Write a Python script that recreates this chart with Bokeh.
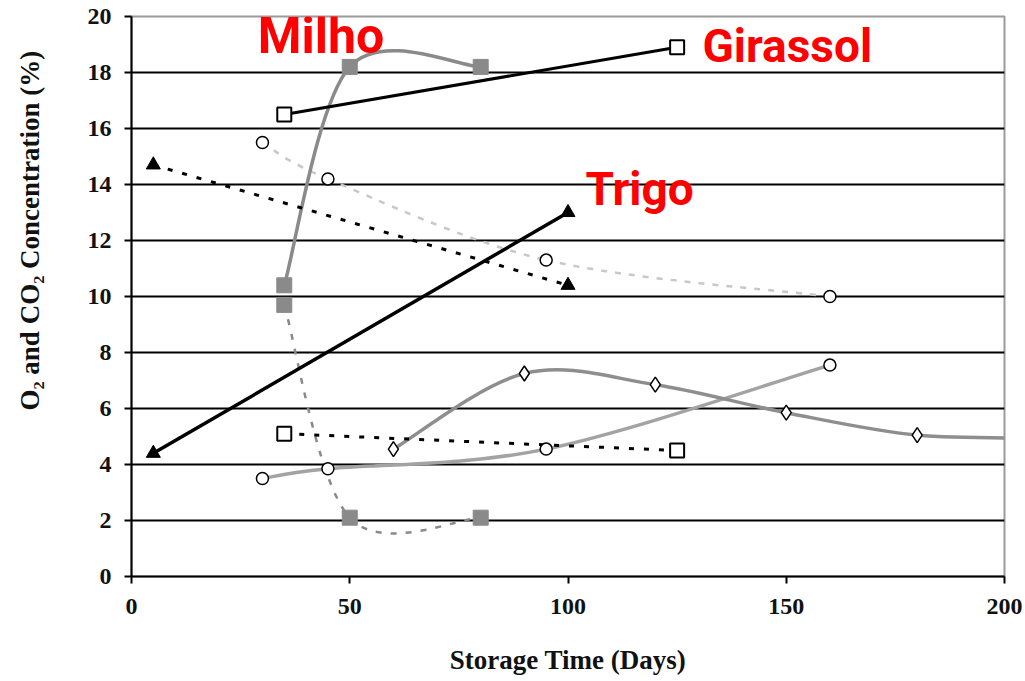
import math
from bokeh.plotting import figure
from bokeh.models import Range1d, FixedTicker, Title
from bokeh.core.properties import value
from bokeh.embed import file_html
from bokeh.resources import INLINE

# ---------------- data ----------------
x_ticks = [0, 50, 100, 150, 200]
y_ticks = [0, 2, 4, 6, 8, 10, 12, 14, 16, 18, 20]

milho_days = [35, 50, 80]
milho_o2 = [10.4, 18.2, 18.2]
milho_co2 = [9.7, 2.1, 2.1]

girassol_days = [35, 125]
girassol_o2 = [16.5, 18.9]
girassol_co2 = [5.1, 4.5]

trigo_days = [5, 100]
trigo_o2 = [4.4, 13.0]
trigo_co2 = [14.7, 10.4]

circ_days = [30, 45, 95, 160]
circ_o2 = [15.5, 14.2, 11.3, 10.0]
circ_co2 = [3.5, 3.85, 4.55, 7.55]

diam_days = [60, 90, 120, 150, 180, 210]
diam_co2 = [4.55, 7.25, 6.85, 5.85, 5.05, 4.95]

labels = ["Milho", "Girassol", "Trigo"]
label_x = [28.9, 130.8, 104.0]
label_y = [19.3, 18.93, 13.84]
label_size = ["50px", "46px", "46px"]


def smooth(xs, ys):
    """Bezier segments (Excel-style smoothed line) through the data points."""
    n = len(xs)
    d = dict(x0=[], y0=[], x1=[], y1=[], cx0=[], cy0=[], cx1=[], cy1=[])
    for i in range(n - 1):
        xp, yp = (xs[i - 1], ys[i - 1]) if i > 0 else (xs[i], ys[i])
        xn, yn = (xs[i + 2], ys[i + 2]) if i + 2 < n else (xs[i + 1], ys[i + 1])
        d["x0"].append(xs[i]); d["y0"].append(ys[i])
        d["x1"].append(xs[i + 1]); d["y1"].append(ys[i + 1])
        d["cx0"].append(xs[i] + (xs[i + 1] - xp) / 6.0)
        d["cy0"].append(ys[i] + (ys[i + 1] - yp) / 6.0)
        d["cx1"].append(xs[i + 1] - (xn - xs[i]) / 6.0)
        d["cy1"].append(ys[i + 1] - (yn - ys[i]) / 6.0)
    return d


p = figure(width=1025, height=681, x_range=Range1d(0, 200), y_range=Range1d(0, 20),
           output_backend="svg", toolbar_location=None,
           min_border_left=131, min_border_right=21, min_border_top=16, min_border_bottom=105)
p.background_fill_color = "white"
p.outline_line_color = "#9a9a9a"
p.outline_line_width = 2

p.xgrid.visible = False
p.ygrid.ticker = FixedTicker(ticks=y_ticks[1:-1])
p.ygrid.grid_line_color = "black"
p.ygrid.grid_line_width = 2

for ax in (p.xaxis[0], p.yaxis[0]):
    ax.axis_line_color = "black"
    ax.axis_line_width = 2
    ax.major_tick_line_color = "black"
    ax.major_tick_line_width = 2
    ax.major_tick_out = 7
    ax.major_tick_in = 0
    ax.minor_tick_line_color = None
    ax.major_label_text_font = "Liberation Serif"
    ax.major_label_text_font_style = "bold"
    ax.major_label_text_font_size = "24px"
    ax.major_label_text_color = "#111111"

p.xaxis.ticker = FixedTicker(ticks=x_ticks)
p.yaxis.ticker = FixedTicker(ticks=y_ticks)
p.xaxis.major_label_standoff = 15
p.yaxis.major_label_standoff = 13
p.xaxis.axis_label = "Storage Time (Days)"
p.xaxis.axis_label_text_font = "Liberation Serif"
p.xaxis.axis_label_text_font_style = "bold"
p.xaxis.axis_label_text_font_size = "27px"
p.xaxis.axis_label_text_color = "#111111"
p.xaxis.axis_label_standoff = 28

# blank spacer label so that the side title sits further out
p.yaxis.axis_label = "\u00a0"
p.yaxis.axis_label_standoff = 12
p.yaxis.axis_label_text_font_size = "18px"

ytitle = Title(text="O\u2082 and CO\u2082 Concentration (%)", align="left", offset=166,
               text_font="Liberation Serif", text_font_style="bold",
               text_font_size="27px", text_color="#111111")
p.add_layout(ytitle, "left")

# ---------------- series ----------------
# light grey dashed O2 with open circles
p.bezier(source=smooth(circ_days, circ_o2), x0="x0", y0="y0", x1="x1", y1="y1",
         cx0="cx0", cy0="cy0", cx1="cx1", cy1="cy1",
         line_color="#c8c8c8", line_width=2.5, line_dash="6 8")
# light grey solid CO2 with open circles
p.bezier(source=smooth(circ_days, circ_co2), x0="x0", y0="y0", x1="x1", y1="y1",
         cx0="cx0", cy0="cy0", cx1="cx1", cy1="cy1",
         line_color="#a3a3a3", line_width=3.5)
# grey solid with diamonds
p.bezier(source=smooth(diam_days, diam_co2), x0="x0", y0="y0", x1="x1", y1="y1",
         cx0="cx0", cy0="cy0", cx1="cx1", cy1="cy1",
         line_color="#8e8e8e", line_width=3.5)
# Milho
p.bezier(source=smooth(milho_days, milho_o2), x0="x0", y0="y0", x1="x1", y1="y1",
         cx0="cx0", cy0="cy0", cx1="cx1", cy1="cy1",
         line_color="#8a8a8a", line_width=3.5)
p.bezier(source=smooth(milho_days, milho_co2), x0="x0", y0="y0", x1="x1", y1="y1",
         cx0="cx0", cy0="cy0", cx1="cx1", cy1="cy1",
         line_color="#8a8a8a", line_width=2.5, line_dash="6 9")
# Girassol
p.line(girassol_days, girassol_o2, line_color="black", line_width=3)
p.line(girassol_days, girassol_co2, line_color="black", line_width=3, line_dash="5 10")
# Trigo
p.line(trigo_days, trigo_o2, line_color="black", line_width=3.5)
p.line(trigo_days, trigo_co2, line_color="black", line_width=3, line_dash="5 10")

# markers
p.scatter(circ_days, circ_o2, marker="circle", size=12, fill_color="white",
          line_color="black", line_width=1.5)
p.scatter(circ_days, circ_co2, marker="circle", size=12, fill_color="white",
          line_color="black", line_width=1.5)
p.scatter(diam_days, diam_co2, marker="diamond", size=15, fill_color="white",
          line_color="black", line_width=1.5)
p.scatter(milho_days, milho_o2, marker="square", size=15, fill_color="#8a8a8a",
          line_color="#8a8a8a")
p.scatter(milho_days, milho_co2, marker="square", size=15, fill_color="#8a8a8a",
          line_color="#8a8a8a")
p.scatter(girassol_days, girassol_o2, marker="square", size=14, fill_color="white",
          line_color="black", line_width=2)
p.scatter(girassol_days, girassol_co2, marker="square", size=14, fill_color="white",
          line_color="black", line_width=2)
p.scatter(trigo_days, trigo_o2, marker="triangle", size=14, fill_color="black",
          line_color="black")
p.scatter(trigo_days, trigo_co2, marker="triangle", size=14, fill_color="black",
          line_color="black")

# red crop names
for t, lx, ly, fs in zip(labels, label_x, label_y, label_size):
    p.text(x=[lx], y=[ly], text=[t], text_color="#ff0000",
           text_font=value("Roboto"), text_font_style="bold",
           text_font_size=fs, text_align="left", text_baseline="middle")

open("out.html", "w").write(file_html(p, INLINE))
